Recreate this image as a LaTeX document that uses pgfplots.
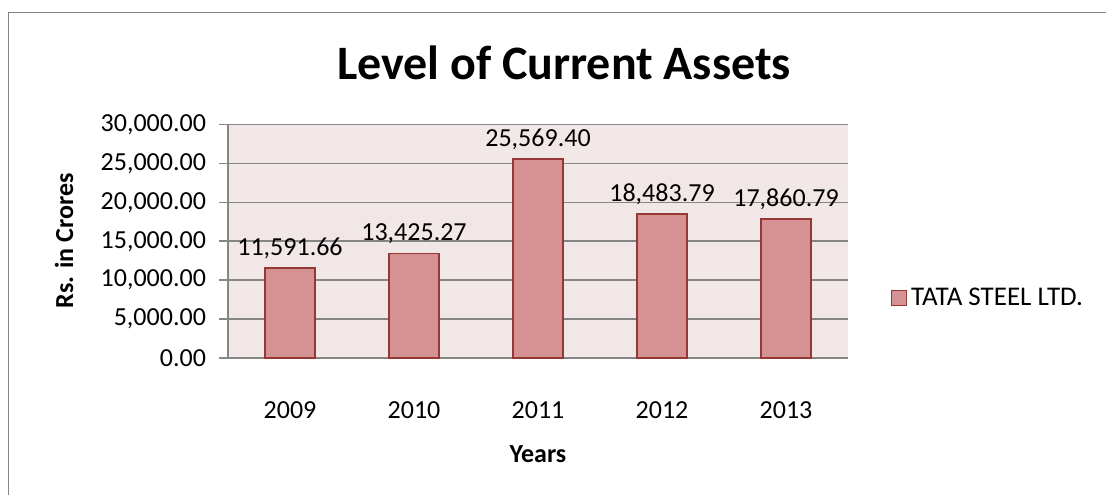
\documentclass[border=0pt]{standalone}
\usepackage{fontspec}
\setmainfont{Carlito}
\usepackage{pgfplots}
\usepackage{pgfplotstable}
\pgfplotsset{compat=1.18}
\definecolor{pinkbg}{RGB}{242,231,231}
\definecolor{barfill}{RGB}{212,146,146}
\definecolor{bardraw}{RGB}{149,55,53}
\definecolor{gridgray}{RGB}{134,134,134}
\pgfplotstableread{
x y label
0 11591.66 11,591.66
1 13425.27 13,425.27
2 25569.40 25,569.40
3 18483.79 18,483.79
4 17860.79 17,860.79
}\data
\begin{document}
\begin{tikzpicture}
\path[use as bounding box] (0pt,0pt) rectangle (553pt,-247.5pt);
\draw[gridgray, line width=0.8pt] (4.2pt,-247.5pt) -- (4.2pt,-6.2pt) -- (553pt,-6.2pt);
\node[font=\fontsize{24}{28}\selectfont\bfseries] at (282pt,-31.5pt) {Level of Current Assets};
\node[font=\fontsize{13}{15}\selectfont\bfseries, rotate=90] at (32pt,-120.5pt) {Rs. in Crores};
\node[font=\fontsize{13}{15}\selectfont\bfseries] at (269pt,-227pt) {Years};
\begin{axis}[
  at={(114pt,-179pt)}, anchor=south west,
  scale only axis, width=310pt, height=116.75pt,
  xmin=-0.5, xmax=4.5, ymin=0, ymax=30000,
  scaled y ticks=false,
  axis background/.style={fill=pinkbg},
  axis x line*=bottom, axis y line*=left,
  axis line style={gridgray, line width=0.8pt, -},
  ytick={0,5000,10000,15000,20000,25000,30000},
  yticklabels={0.00,{5,000.00},{10,000.00},{15,000.00},{20,000.00},{25,000.00},{30,000.00}},
  xtick={0,1,2,3,4},
  xticklabels={2009,2010,2011,2012,2013},
  tick label style={font=\fontsize{13}{15}\selectfont, black},
  xtick style={draw=none},
  ytick style={gridgray, line width=0.8pt},
  tick align=outside, major tick length=4.5pt,
  yticklabel style={xshift=-3pt},
  xticklabel style={yshift=-14pt},
  ymajorgrids, grid style={gridgray, line width=0.8pt},
  ybar, bar width=25pt,
  nodes near coords, point meta=explicit symbolic,
  nodes near coords style={font=\fontsize{13}{15}\selectfont, black, yshift=1pt},
  legend image code/.code={\draw[#1] (0pt,-3.75pt) rectangle (7.5pt,3.75pt);},
  legend style={draw=none, fill=none, at={(1.068,0.257)}, anchor=west, inner sep=0pt,
    font=\fontsize{13.5}{15}\selectfont, legend cell align=left,
    nodes={inner sep=2pt}},
]
\addplot[fill=barfill, draw=bardraw, line width=0.8pt] table[x=x, y=y, meta=label] {\data};
\addlegendentry{TATA STEEL LTD.}
\end{axis}
\end{tikzpicture}
\end{document}
